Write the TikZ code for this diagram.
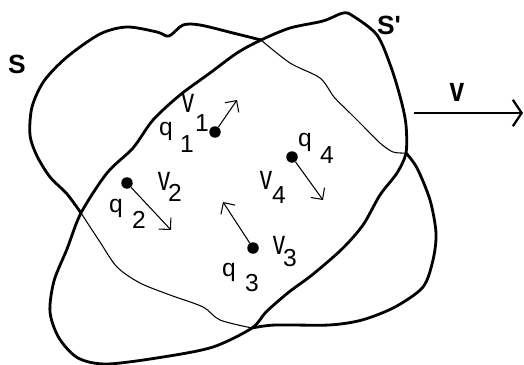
\documentclass[tikz,border=0pt]{standalone}
\usepackage{fontspec}
\setmainfont{Liberation Sans}
\usetikzlibrary{arrows.meta}

\begin{document}
\begin{tikzpicture}[x=0.02cm, y=-0.02cm,
    edge/.style={line width=1.6pt, line join=round},
    inner/.style={line width=0.6pt, line join=round},
    particle/.style={circle, fill=black, inner sep=0pt, minimum size=0.23cm},
    vel/.style={line width=0.6pt, -{Straight Barb[length=4.8pt, width=9.6pt, line width=0.6pt]}},
    lbl/.style={inner sep=0pt, font=\fontsize{14}{16}\selectfont},
    big/.style={inner sep=0pt, font=\fontsize{15}{17}\selectfont\bfseries}]
    \useasboundingbox (0,0) rectangle (524,365);
    % crossing points of the two outlines
    \coordinate (X1) at (81,213);
    \coordinate (X2) at (261,40);
    \coordinate (X3) at (406,153);
    \coordinate (X4) at (252,328);
    % S' (tilted region)
    \draw[edge] plot[smooth cycle, tension=0.5] coordinates {(X1) (107,173) (133,148) (153,120) (180,95) (210,73) (237,53)
        (X2) (290,28) (323,21) (343,13) (353,16) (377,35) (391,67) (401,100) (406,125)
        (X3) (397,173) (380,195) (363,225) (342,249) (312,275) (289,292) (266,312)
        (X4) (213,347) (163,357) (107,364) (78,358) (59,338) (50,312) (54,281) (67,249)};
    % S (outer parts thick, parts inside S' thin)
    \draw[edge] plot[smooth, tension=0.5] coordinates {(X1) (67,194) (50,177) (37,156) (30,135) (32,107) (44,81)
        (67,57) (100,34) (127,27) (157,32) (169,36) (183,25) (200,25) (233,33) (X2)};
    \draw[inner] plot[smooth, tension=0.5] coordinates {(X2) (290,63) (320,78) (334,97) (350,113) (364,127) (380,143) (393,152) (X3)};
    \draw[edge] plot[smooth, tension=0.5] coordinates {(X3) (417,168) (430,200) (436,233) (433,260) (423,287) (395,307)
        (362,320) (329,325) (275,325) (X4)};
    \draw[inner] plot[smooth, tension=0.5] coordinates {(X4) (220,320) (203,307) (170,295) (140,283) (117,267) (100,242) (X1)};
    % labels of the two regions and the velocity
    \node[big] (S) at (17,64) {S};
    \node[big] (Sp) at (389,25) {S\textquotesingle};
    \coordinate (vstart) at (414,113);
    \coordinate (vend) at (523,113);
    \draw[line width=1.3pt, -{Straight Barb[length=5pt, width=15pt, line width=1.3pt]}] (vstart) -- (vend);
    \node[big] (v) at (457,92) {\scalebox{1}[1.3]{v}};
    % charges and their velocities
    \foreach \i/\dotpos/\tippos/\qpos/\qsub/\vpos/\vsub in {
        1/{215,132}/{237,100}/{166,131}/{187,144}/{188,103}/{202,123},
        2/{127,183}/{171,230}/{116,208}/{139,220}/{164,181}/{175,193},
        3/{253,248}/{223,202}/{229,272}/{252,283}/{279,245}/{290,258},
        4/{292,157}/{323,200}/{305,142}/{327,155}/{266,180}/{279,195}}
    {
        \node[particle] (q\i) at (\dotpos) {};
        \coordinate (t\i) at (\tippos);
        \draw[vel] (q\i) -- (t\i);
        \node[lbl] (ql\i) at (\qpos) {q};
        \node[lbl] (qs\i) at (\qsub) {\i};
        \node[lbl] (vl\i) at (\vpos) {\scalebox{1}[1.4]{v}};
        \node[lbl] (vs\i) at (\vsub) {\i};
    }
\end{tikzpicture}
\end{document}
